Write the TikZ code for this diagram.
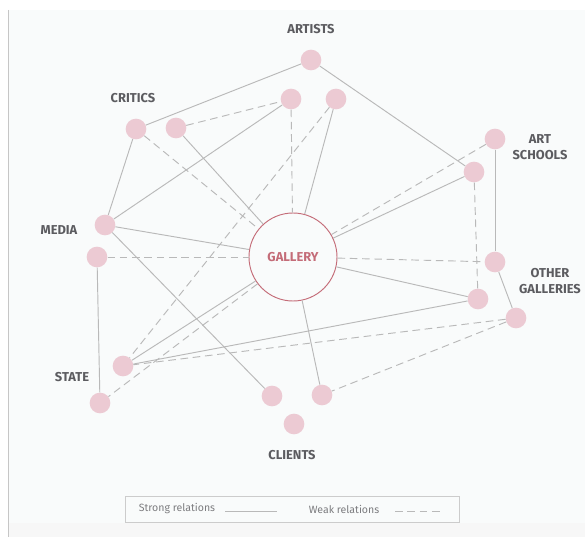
\documentclass[tikz,border=0pt]{standalone}
\usepackage{fontspec}
\setmainfont{Fira Sans}
\usetikzlibrary{positioning}

\definecolor{nodepink}{RGB}{236,202,211}
\definecolor{hubred}{RGB}{196,108,120}
\definecolor{labelgray}{RGB}{92,92,96}
\definecolor{linegray}{RGB}{185,185,185}
\definecolor{bgwhite}{RGB}{249,251,251}

\begin{document}
\begin{tikzpicture}[x=0.03cm, y=-0.03cm,
    actor/.style={circle, fill=nodepink, minimum size=0.62cm, inner sep=0pt},
    hub/.style={circle, draw=hubred, line width=0.8pt, fill=bgwhite, minimum size=2.64cm, inner sep=0pt, text=hubred, font=\bfseries\fontsize{11}{12}\selectfont},
    group/.style={text=labelgray, align=center, font=\bfseries\fontsize{11}{13.5}\selectfont},
    strong/.style={draw=linegray, line width=0.8pt},
    weak/.style={draw=linegray, line width=0.8pt, dash pattern=on 6.5pt off 4pt},
    keytext/.style={text=labelgray!80, font=\fontsize{9}{10}\selectfont}]
        \useasboundingbox (0,0) rectangle (585,537);
        \fill[white] (0,0) rectangle (585,537);
        \fill[bgwhite] (9,10) rectangle (585,537);
        \fill[gray!6] (9,523) rectangle (585,537);
        \draw[gray!45, line width=0.8pt] (8,10) -- (8,537);

        % the gallery in the middle
        \node[hub] (g) at (293,257) {GALLERY};

        % actors round it
        \node[actor] (a1) at (311,60) {};
        \node[actor] (a2) at (291,99) {};
        \node[actor] (a3) at (336,99) {};
        \node[actor] (c1) at (136,129) {};
        \node[actor] (c2) at (176,128) {};
        \node[actor] (as1) at (495,139) {};
        \node[actor] (as2) at (474,172) {};
        \node[actor] (m1) at (105,225) {};
        \node[actor] (m2) at (97,257) {};
        \node[actor] (og1) at (495,262) {};
        \node[actor] (og2) at (478,299) {};
        \node[actor] (og3) at (516,318) {};
        \node[actor] (s1) at (123,366) {};
        \node[actor] (s2) at (100,403) {};
        \node[actor] (cl1) at (272,396) {};
        \node[actor] (cl2) at (322,395) {};
        \node[actor] (cl3) at (294,424) {};

        % group names
        \node[group] (lartists) at (311,29) {ARTISTS};
        \node[group] (lcritics) at (133,98) {CRITICS};
        \node[group] (lschools) at (540,147) {ART\\SCHOOLS};
        \node[group] (lmedia) at (59,230) {MEDIA};
        \node[group] (lothers) at (550,281) {OTHER\\GALLERIES};
        \node[group] (lstate) at (72,377) {STATE};
        \node[group] (lclients) at (292,455) {CLIENTS};

        % strong relations
        \draw[strong] (a1) -- (c1);
        \draw[strong] (a1) -- (as2);
        \draw[strong] (c1) -- (m1);
        \draw[strong] (c2) -- (g);
        \draw[strong] (a2) -- (m1);
        \draw[strong] (a3) -- (g);
        \draw[strong] (m1) -- (g);
        \draw[strong] (m1) -- (cl1);
        \draw[strong] (as2) -- (g);
        \draw[strong] (as1) -- (og1);
        \draw[strong] (og1) -- (og3);
        \draw[strong] (g) -- (og2);
        \draw[strong] (og2) -- (s1);
        \draw[strong] (g) -- (s1);
        \draw[strong] (g) -- (cl2);
        \draw[strong] (m2) -- (s2);

        % weak relations
        \draw[weak] (c1) -- (g);
        \draw[weak] (c2) -- (a2);
        \draw[weak] (a2) -- (g);
        \draw[weak] (a3) -- (s1);
        \draw[weak] (as1) -- (g);
        \draw[weak] (as2) -- (og2);
        \draw[weak] (g) -- (og1);
        \draw[weak] (m2) -- (g);
        \draw[weak] (og3) -- (s1);
        \draw[weak] (og3) -- (cl2);
        \draw[weak] (g) -- (s2);

        % key
        \node[draw=gray!40, fill=bgwhite, line width=0.7pt, minimum width=10.02cm, minimum height=0.78cm, inner sep=0pt] (key) at (292,509) {};
        \node[keytext] (kstrong) at (177,509) {Strong relations};
        \node[keytext] (kweak) at (344,509) {Weak relations};
        \coordinate (ks1) at (225,511);
        \coordinate (ks2) at (277,511);
        \coordinate (kw1) at (395,511);
        \coordinate (kw2) at (442,511);
        \draw[strong, line width=0.6pt] (ks1) -- (ks2);
        \draw[weak, line width=0.6pt] (kw1) -- (kw2);
    \end{tikzpicture}
\end{document}
